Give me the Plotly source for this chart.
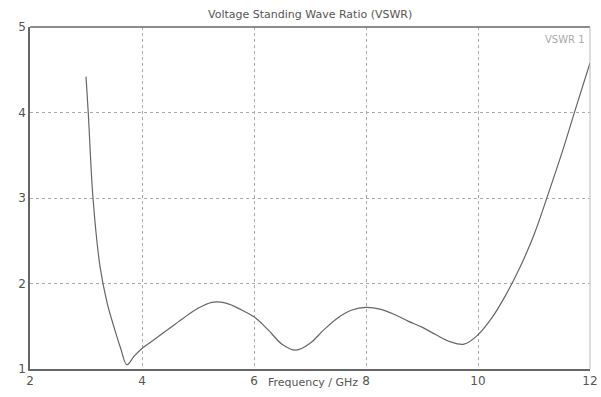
import plotly.graph_objects as go

freq = [3.00, 3.04, 3.125, 3.25, 3.375, 3.50, 3.62, 3.73, 3.86, 4.00, 4.25, 4.50, 4.75, 5.00, 5.25, 5.50, 5.75, 6.00,
        6.25, 6.50, 6.75, 7.00, 7.25, 7.50, 7.75, 8.00, 8.25, 8.50, 8.75, 9.00, 9.25, 9.50, 9.75, 10.00,
        10.25, 10.50, 10.75, 11.00, 11.25, 11.50, 11.75, 12.00]
vswr = [4.42, 4.00, 3.00, 2.20, 1.78, 1.49, 1.24, 1.05, 1.15, 1.24, 1.36, 1.48, 1.60, 1.71, 1.78, 1.77, 1.70, 1.61,
        1.46, 1.29, 1.22, 1.30, 1.46, 1.60, 1.69, 1.72, 1.70, 1.64, 1.56, 1.49, 1.40, 1.32, 1.29, 1.40,
        1.60, 1.87, 2.19, 2.57, 3.04, 3.53, 4.06, 4.58]

xticks = [2, 4, 6, 8, 10, 12]
yticks = [1, 2, 3, 4, 5]

fig = go.Figure()
fig.add_trace(go.Scatter(x=freq, y=vswr, mode="lines", name="VSWR 1",
                         line=dict(color="#666666", width=1.2, shape="spline", smoothing=1.0)))

fig.update_layout(
    width=601, height=397,
    margin=dict(l=30, r=11, t=27, b=28, autoexpand=False),
    paper_bgcolor="white", plot_bgcolor="white",
    font=dict(family="DejaVu Sans", color="#555555", size=11),
    showlegend=False,
    xaxis=dict(range=[2, 12], tickvals=xticks, ticktext=[str(t) for t in xticks],
               showgrid=True, gridcolor="#aaaaaa", griddash="dot", gridwidth=1,
               zeroline=False, showline=True, linecolor="#666666", linewidth=1.5,
               mirror=False, ticks="", automargin=False,
               tickfont=dict(size=12, color="#555555")),
    yaxis=dict(range=[1, 5], tickvals=yticks, ticktext=[str(t) for t in yticks],
               showgrid=True, gridcolor="#aaaaaa", griddash="dot", gridwidth=1,
               zeroline=False, showline=True, linecolor="#666666", linewidth=1.5,
               mirror=False, ticks="", automargin=False,
               tickfont=dict(size=12, color="#555555")),
    shapes=[
        dict(type="line", xref="paper", yref="paper", x0=0, x1=1, y0=1, y1=1,
             line=dict(color="#666666", width=1.5)),
        dict(type="line", xref="paper", yref="paper", x0=1, x1=1, y0=0, y1=1,
             line=dict(color="#bbbbbb", width=1)),
    ],
    annotations=[
        dict(text="Voltage Standing Wave Ratio (VSWR)", xref="paper", yref="paper",
             x=0.5, y=1, yshift=4, xanchor="center", yanchor="bottom", showarrow=False,
             font=dict(size=11, color="#555555")),
        dict(text="VSWR 1", xref="paper", yref="paper", x=0.995, y=0.985,
             xanchor="right", yanchor="top", showarrow=False,
             font=dict(size=10, color="#aaaaaa")),
        dict(text="Frequency / GHz", xref="x", yref="paper", x=7.05, y=0,
             yshift=-5, xanchor="center", yanchor="top", showarrow=False,
             font=dict(size=11, color="#555555")),
    ],
)

fig.write_html("out.html")
